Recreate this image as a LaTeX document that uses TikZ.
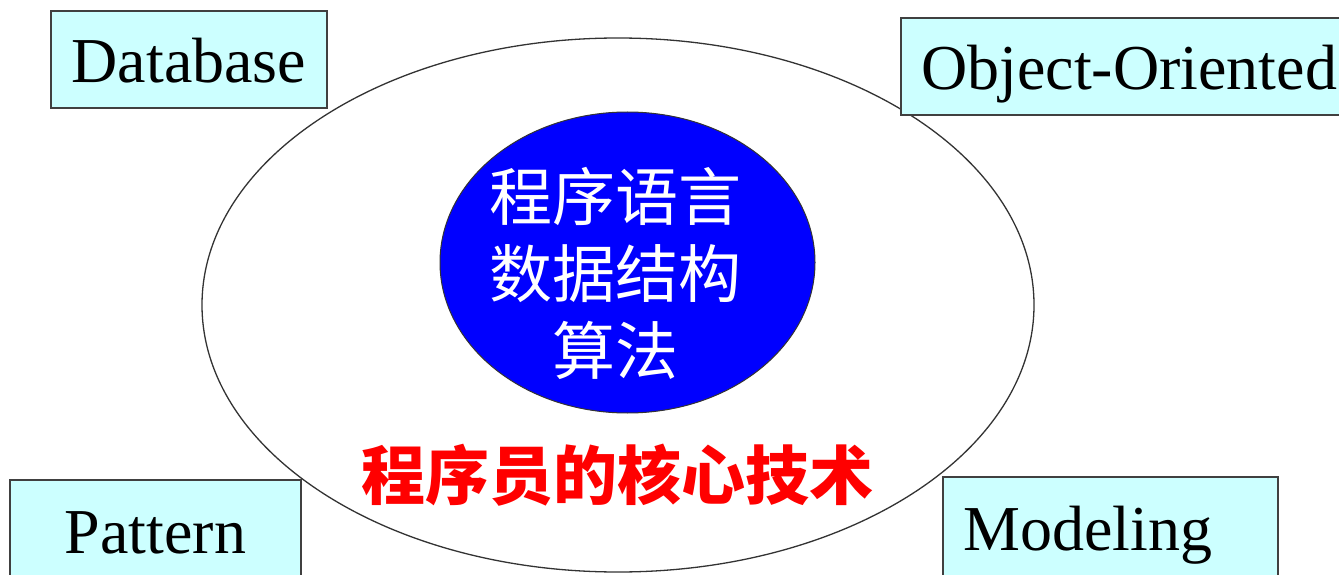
\documentclass[tikz,border=0pt]{standalone}
\usepackage{fontspec}
\usetikzlibrary{shapes.geometric}
\setmainfont{Liberation Serif}
\newfontfamily\cjk{Noto Sans CJK SC}
\definecolor{boxfill}{HTML}{CCFFFF}
\definecolor{boxline}{HTML}{404040}
\begin{document}
\begin{tikzpicture}[x=1pt,y=1pt,
  tagbox/.style={draw=boxline,line width=1.8pt,fill=boxfill},
  tagtext/.style={inner sep=0pt,font=\fontsize{64}{70}\selectfont}]
\useasboundingbox (0,0) rectangle (1339,574);
\clip (0,0) rectangle (1339,574);
\fill[white] (0,0) rectangle (1339,574);
% outer ellipse
\node (outer) [draw=black!80,line width=1.3pt,ellipse,inner sep=0pt,minimum width=832pt,minimum height=534pt] at (618,269) {};
% inner blue ellipse
\node (core) [draw=black!80,line width=1pt,fill={rgb,255:red,0;green,0;blue,255},ellipse,inner sep=0pt,minimum width=375pt,minimum height=301pt] at (627.5,311.5) {};
\node (coretext) [text=white,align=center,inner sep=0pt,font=\cjk\fontsize{63}{77}\selectfont] at (615,301) {程序语言\\数据结构\\算法};
\node (caption) [text=red,inner sep=0pt,font=\cjk\bfseries\fontsize{64}{70}\selectfont] at (617,99) {程序员的核心技术};
% boxes
\path[tagbox] (51,466) rectangle (327,563);
\node (db) [tagtext,anchor=base] at (189,491) {Database};
\path[tagbox] (901,459) rectangle (1345,556);
\node (oo) [tagtext,anchor=base west] at (921,484) {Object-Oriented};
\path[tagbox] (10,-5) rectangle (301,94);
\node (pat) [tagtext,anchor=base] at (155.5,21) {Pattern};
\path[tagbox] (943,-5) rectangle (1278,97);
\node (mod) [tagtext,anchor=base west] at (963,24) {Modeling};
\end{tikzpicture}
\end{document}
